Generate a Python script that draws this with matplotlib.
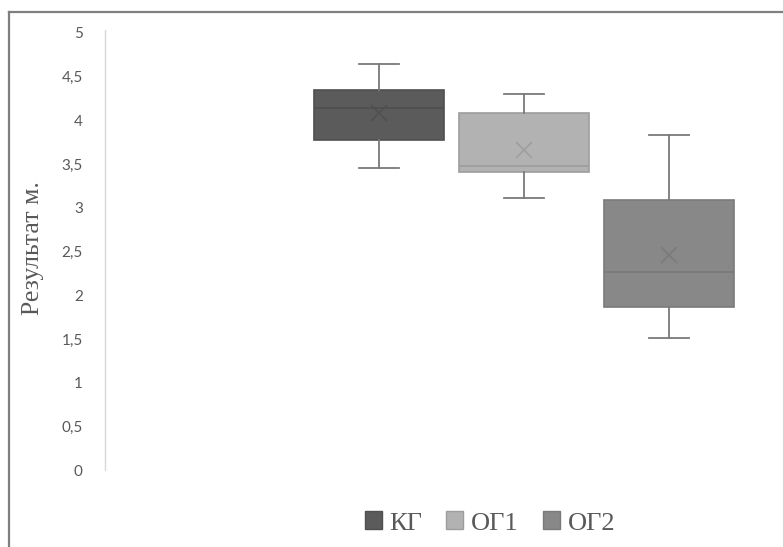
import matplotlib
matplotlib.use("Agg")
import matplotlib.pyplot as plt
from matplotlib.patches import Patch
from matplotlib.lines import Line2D
from matplotlib.ticker import FuncFormatter

groups = ["КГ", "ОГ1", "ОГ2"]
whisker_low = [3.455, 3.11, 1.507]
q1 = [3.78, 3.413, 1.87]
median = [4.145, 3.48, 2.265]
q3 = [4.35, 4.088, 3.09]
whisker_high = [4.645, 4.305, 3.83]
mean = [4.08, 3.66, 2.46]
colors = ["#5b5b5b", "#b2b2b2", "#888888"]
edge_colors = ["#4f4f4f", "#9d9d9d", "#7a7a7a"]
yticks = [0, 0.5, 1, 1.5, 2, 2.5, 3, 3.5, 4, 4.5, 5]

W, H = 783, 547
fig = plt.figure(figsize=(W / 100, H / 100), dpi=100)

# chart border (left and top visible)
fig.add_artist(Line2D([9 / W, 9 / W], [0, 1 - 11.5 / H], color="#7f7f7f", lw=1.6))
fig.add_artist(Line2D([9 / W, 1], [1 - 11.5 / H, 1 - 11.5 / H], color="#7f7f7f", lw=1.6))

left, right = 105, 775
top, bottom = 33, 470
ax = fig.add_axes([left / W, 1 - bottom / H, (right - left) / W, (bottom - top) / H])

positions = [0, 1, 2]
stats = []
for i, g in enumerate(groups):
    stats.append(dict(label=g, whislo=whisker_low[i], q1=q1[i], med=median[i],
                      q3=q3[i], whishi=whisker_high[i], mean=mean[i], fliers=[]))

for i in range(3):
    bp = ax.bxp([stats[i]], positions=[positions[i]], widths=0.9, patch_artist=True,
                showmeans=True, showfliers=False,
                boxprops=dict(facecolor=colors[i], edgecolor=edge_colors[i], linewidth=1.2),
                medianprops=dict(color=edge_colors[i], linewidth=1.3),
                whiskerprops=dict(color="#7a7a7a", linewidth=1.3),
                capprops=dict(color="#7a7a7a", linewidth=1.3),
                meanprops=dict(marker="x", markersize=11, markeredgecolor=edge_colors[i],
                               markeredgewidth=1.1, linestyle="none"))
    for c in bp["caps"]:
        x0, x1 = c.get_xdata()
        cx = (x0 + x1) / 2
        c.set_xdata([cx - 0.135, cx + 0.135])

x_per_px = 1 / 145.0
ax.set_xlim(-(379 - left) * x_per_px, 2 + (right - 669) * x_per_px)
ax.set_ylim(0, 5)
ax.set_yticks(yticks)
ax.yaxis.set_major_formatter(FuncFormatter(lambda v, p: ("%g" % v).replace(".", ",")))
ax.tick_params(axis="y", length=0, pad=16, labelsize=11, labelcolor="#595959")
for lab in ax.get_yticklabels():
    lab.set_family("Lato")
ax.set_xticks([])
for s in ["top", "right", "bottom"]:
    ax.spines[s].set_visible(False)
ax.spines["left"].set_color("#d9d9d9")
ax.spines["left"].set_linewidth(1.0)
ax.spines["left"].set_bounds(0, 5.03)
ax.set_facecolor("none")

fig.text(33 / W, 1 - 248 / H, "Результат м.", rotation=90, ha="center", va="center",
         family="Liberation Serif", fontsize=18.5, color="#595959")

handles = [Patch(facecolor=colors[i], edgecolor=edge_colors[i], label=groups[i]) for i in range(3)]
leg = fig.legend(handles=handles, loc="center", bbox_to_anchor=(490 / W, 1 - 523 / H),
                 ncol=3, frameon=False, prop=dict(family="Liberation Serif", size=19),
                 handlelength=0.65, handleheight=0.65, handletextpad=0.3, columnspacing=0.9,
                 labelcolor="#595959")

fig.savefig("out.png", dpi=100)
